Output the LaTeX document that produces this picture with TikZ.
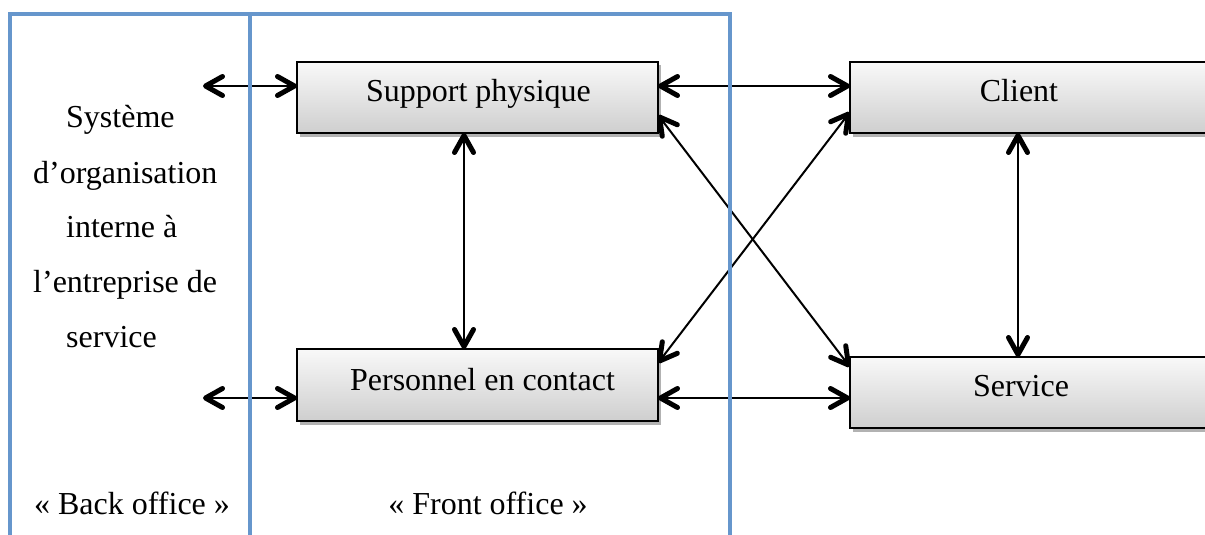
\documentclass[tikz,border=0pt]{standalone}
\usepackage{fontspec}
\setmainfont{Liberation Serif}[Ligatures=CommonOff]
\usetikzlibrary{arrows.meta,shadows,calc}
\definecolor{frameblue}{RGB}{102,150,204}
\begin{document}
\begin{tikzpicture}[x=1pt,y=1pt,
  box/.style={draw=black, line width=1.5pt, top color=gray!5, bottom color=gray!38,
    inner sep=0pt, outer sep=0pt,
    drop shadow={shadow xshift=2.5pt, shadow yshift=-3.5pt, fill=black, opacity=0.3}},
  lbl/.style={font=\fontsize{32}{38}\selectfont, inner sep=0pt, anchor=base},
  lblw/.style={lbl, anchor=base west},
  tipb/.tip={Straight Barb[length=17pt,width=19pt,line width=5pt 0,round]},
  arr/.style={line width=2pt, black, tipb-tipb},
  frame/.style={draw=frameblue, line width=4pt}]
\useasboundingbox (0,0) rectangle (1205,-535);
\clip (0,0) rectangle (1205,-535);
% boxes
\node[box, minimum width=361pt, minimum height=71pt] (sp) at (477.5,-97.5) {};
\node[box, minimum width=361pt, minimum height=72pt] (pc) at (477.5,-385) {};
\node[box, minimum width=365pt, minimum height=71pt] (cl) at (1032.5,-97.5) {};
\node[box, minimum width=365pt, minimum height=71pt] (sv) at (1032.5,-392.5) {};
\node[lbl] (tsp) at (478.5,-102) {Support physique};
\node[lbl] (tpc) at (482.5,-390) {Personnel en contact};
\node[lbl] (tcl) at (1019,-102) {Client};
\node[lbl] (tsv) at (1021,-396) {Service};
% left text
\node[lblw] (t1) at (66,-127) {Système};
\node[lblw] (t2) at (33,-183) {d’organisation};
\node[lblw] (t3) at (66,-237) {interne à};
\node[lblw] (t4) at (33,-292) {l’entreprise de};
\node[lblw] (t5) at (66,-347) {service};
\node[lbl] (bo) at (132,-514) {« Back office »};
\node[lbl] (fo) at (488,-514) {« Front office »};
% arrows
\coordinate (l1) at (203,-86);
\coordinate (l2) at (203,-398);
\draw[arr] (l1) -- (l1 -| sp.west);
\draw[arr] (l2) -- (l2 -| pc.west);
\draw[arr] (sp.east |- l1) -- (cl.west |- l1);
\draw[arr] (pc.east |- l2) -- (sv.west |- l2);
\draw[arr] ([xshift=-13.5pt]sp.south) -- ([xshift=-13.5pt]pc.north);
\draw[arr] ([xshift=-14.5pt]cl.south) -- ([xshift=-14.5pt]sv.north);
\draw[arr] ($(sp.south east)+(0,18)$) -- ($(sv.north west)+(0,-10)$);
\draw[arr] ($(pc.north east)+(0,-14)$) -- ($(cl.south west)+(0,21)$);
% frame
\coordinate (fa) at (10,-545);
\coordinate (fb) at (10,-14);
\coordinate (fc) at (730,-14);
\coordinate (fd) at (730,-545);
\coordinate (fe) at (250,-14);
\coordinate (ff) at (250,-545);
\draw[frame, line join=miter] (fa) -- (fb) -- (fc) -- (fd);
\draw[frame] (fe) -- (ff);
\end{tikzpicture}
\end{document}
